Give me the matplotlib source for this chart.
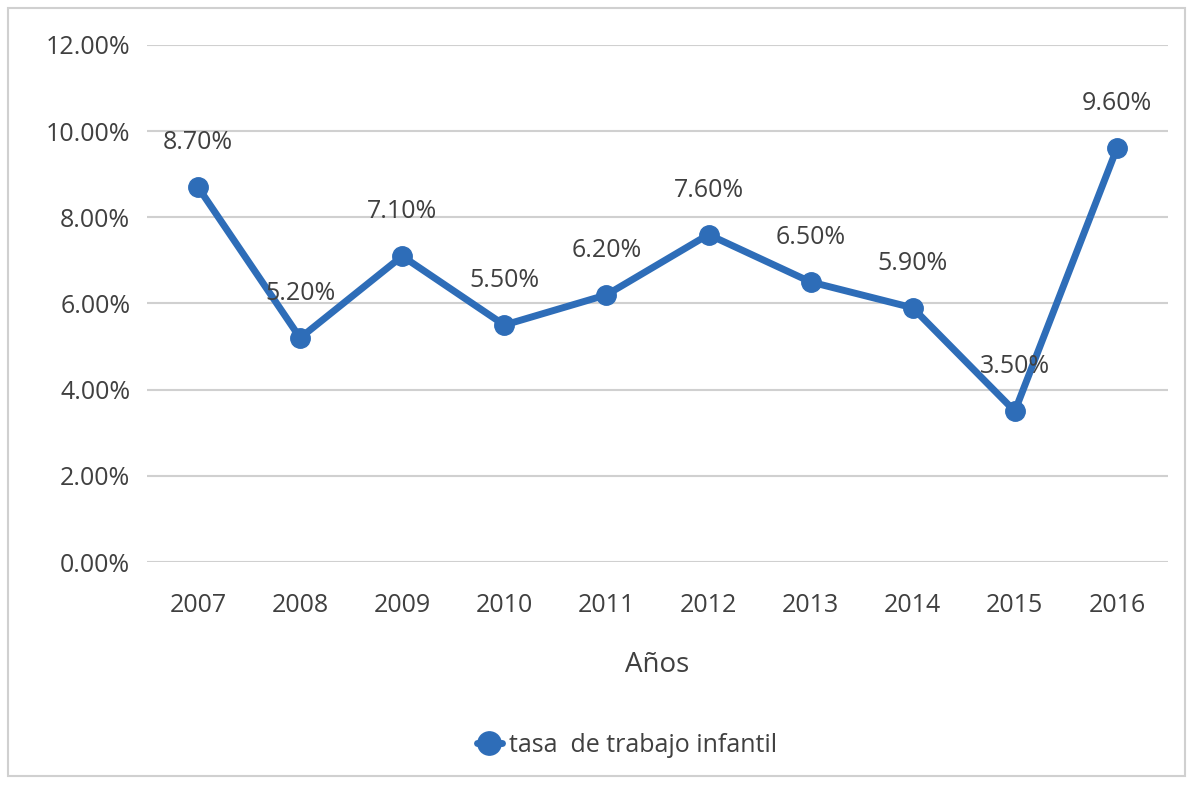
import matplotlib.pyplot as plt
from matplotlib.patches import Rectangle
from matplotlib.ticker import FuncFormatter

years = ['2007', '2008', '2009', '2010', '2011', '2012', '2013', '2014', '2015', '2016']
tasa = [8.7, 5.2, 7.1, 5.5, 6.2, 7.6, 6.5, 5.9, 3.5, 9.6]
yticks = [0, 2, 4, 6, 8, 10, 12]

blue = '#2E6DB8'
txt = '#404040'

plt.rcParams['font.family'] = ['Open Sans', 'DejaVu Sans']

fig = plt.figure(figsize=(11.93, 7.88), dpi=100)
ax = fig.add_axes([0.1232, 0.2868, 0.979 - 0.1232, 0.9429 - 0.2868])

x = range(len(years))
ax.plot(x, tasa, color=blue, lw=5, marker='o', markersize=14,
        label='tasa  de trabajo infantil', solid_capstyle='round')

for i, v in enumerate(tasa):
    ax.annotate('%.2f%%' % v, (i, v), xytext=(0, 32), textcoords='offset points',
                ha='center', va='center', fontsize=18, color=txt)

ax.set_xlim(-0.5, len(years) - 0.5)
ax.set_ylim(0, 12)
ax.set_yticks(yticks)
ax.yaxis.set_major_formatter(FuncFormatter(lambda v, p: '%.2f%%' % v))
ax.set_xticks(list(x))
ax.set_xticklabels(years)
ax.grid(axis='y', color='#D0D0D0', lw=1.5)
ax.set_axisbelow(True)
for s in ax.spines.values():
    s.set_visible(False)
ax.tick_params(length=0, labelsize=18, labelcolor=txt)
ax.tick_params(axis='x', pad=22)
ax.tick_params(axis='y', pad=12)
ax.set_xlabel('Años', fontsize=20, color=txt, labelpad=24)

ax.legend(loc='center', bbox_to_anchor=(0.47, -0.355), frameon=False,
          fontsize=18, labelcolor=txt, handlelength=1.0, handletextpad=0.3,
          markerscale=1.2)

fig.patches.append(Rectangle((8 / 1193, 12 / 788), 1177 / 1193, 768 / 788,
                             transform=fig.transFigure, fill=False,
                             edgecolor='#D0D0D0', lw=1.5))

fig.savefig('out.png', dpi=100)
